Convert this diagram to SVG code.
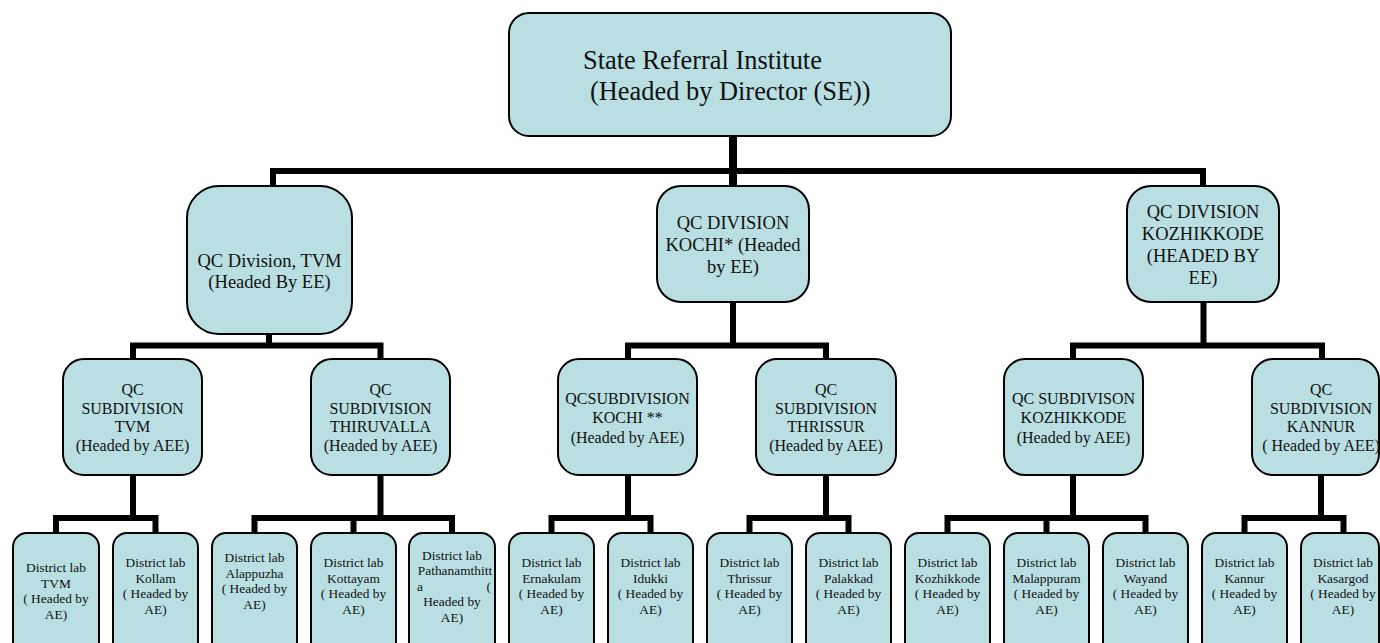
<svg xmlns="http://www.w3.org/2000/svg" width="1380" height="643" viewBox="0 0 1380 643">
<style>
.box{fill:#b9dfe2;stroke:#000;stroke-width:2}
.t{fill:#111;text-anchor:middle}
.top{font-size:26.4px;text-anchor:start}
.div{font-size:18.5px}
.sub{font-size:16px}
.lab{font-size:13.4px}
.c{fill:none;stroke:#000;stroke-width:6;stroke-linecap:butt;stroke-linejoin:miter}
</style>
<rect width="1380" height="643" fill="#fff"/>
<g id="connectors">
<path class="c" d="M733 136V187" style="stroke-width:8"/>
<path class="c" d="M273 187V171H1203V187"/>
<path class="c" d="M269 334V345.5M133 359V345.5H380.5V359"/>
<path class="c" d="M733 302V345.5M628 359V345.5H826V359"/>
<path class="c" d="M1203.5 302V345.5M1073 359V345.5H1322V359"/>
<path class="c" d="M133 475V518M56 533V518H155.5V533"/>
<path class="c" d="M380.5 475V518M254.5 533V518H452V533M353.5 518V533"/>
<path class="c" d="M628 475V518M551.5 533V518H650.5V533"/>
<path class="c" d="M826 475V518M749.5 533V518H848.5V533"/>
<path class="c" d="M1073 475V518M947.5 533V518H1145.5V533M1046.5 518V533"/>
<path class="c" d="M1321 475V518M1244.5 533V518H1343.5V533"/>
</g>
<g font-family="'Liberation Serif', 'Times New Roman', 'DejaVu Serif', serif">
<g id="n-sri">
<rect class="box" x="509" y="13" width="442" height="123" rx="20"/>
<text class="t top" x="583" y="69">State Referral Institute</text>
<text class="t top" x="590" y="100">(Headed by Director (SE))</text>
</g>
<g id="n-div-tvm">
<rect class="box" x="187" y="186" width="165" height="148" rx="32"/>
<text class="t div" x="269.5" y="267">QC Division, TVM</text>
<text class="t div" x="269.5" y="288">(Headed By EE)</text>
</g>
<g id="n-div-kochi">
<rect class="box" x="657" y="186" width="152" height="116" rx="24"/>
<text class="t div" x="733" y="229">QC DIVISION</text>
<text class="t div" x="733" y="251">KOCHI* (Headed</text>
<text class="t div" x="733" y="273">by EE)</text>
</g>
<g id="n-div-kkd">
<rect class="box" x="1127" y="186" width="152" height="116" rx="24"/>
<text class="t div" x="1203" y="218">QC DIVISION</text>
<text class="t div" x="1203" y="240">KOZHIKKODE</text>
<text class="t div" x="1203" y="262">(HEADED BY</text>
<text class="t div" x="1203" y="284">EE)</text>
</g>
<g id="n-sub-tvm">
<rect class="box" x="63" y="359" width="139" height="116" rx="21"/>
<text class="t sub" x="132.5" y="395">QC</text>
<text class="t sub" x="132.5" y="413.5">SUBDIVISION</text>
<text class="t sub" x="132.5" y="432">TVM</text>
<text class="t sub" x="132.5" y="450.5">(Headed by AEE)</text>
</g>
<g id="n-sub-thiruvalla">
<rect class="box" x="311" y="359" width="139" height="116" rx="21"/>
<text class="t sub" x="380.5" y="395">QC</text>
<text class="t sub" x="380.5" y="413.5">SUBDIVISION</text>
<text class="t sub" x="380.5" y="432">THIRUVALLA</text>
<text class="t sub" x="380.5" y="450.5">(Headed by AEE)</text>
</g>
<g id="n-sub-kochi">
<rect class="box" x="558" y="359" width="139" height="116" rx="21"/>
<text class="t sub" x="627.5" y="404">QCSUBDIVISION</text>
<text class="t sub" x="627.5" y="423">KOCHI **</text>
<text class="t sub" x="627.5" y="443">(Headed by AEE)</text>
</g>
<g id="n-sub-thrissur">
<rect class="box" x="756" y="359" width="140" height="116" rx="21"/>
<text class="t sub" x="826" y="395">QC</text>
<text class="t sub" x="826" y="413.5">SUBDIVISION</text>
<text class="t sub" x="826" y="432">THRISSUR</text>
<text class="t sub" x="826" y="450.5">(Headed by AEE)</text>
</g>
<g id="n-sub-kkd">
<rect class="box" x="1004" y="359" width="139" height="116" rx="21"/>
<text class="t sub" x="1073.5" y="404">QC SUBDIVISON</text>
<text class="t sub" x="1073.5" y="423">KOZHIKKODE</text>
<text class="t sub" x="1073.5" y="443">(Headed by AEE)</text>
</g>
<g id="n-sub-kannur">
<rect class="box" x="1252" y="359" width="127" height="116" rx="21"/>
<text class="t sub" x="1321" y="395">QC</text>
<text class="t sub" x="1321" y="413.5">SUBDIVISION</text>
<text class="t sub" x="1321" y="432">KANNUR</text>
<text class="t sub" x="1321" y="450.5">( Headed by AEE)</text>
</g>
<g id="n-lab-tvm">
<rect class="box" x="13" y="533" width="86" height="130" rx="14"/>
<text class="t lab" x="56" y="572">District lab</text>
<text class="t lab" x="56" y="587.5">TVM</text>
<text class="t lab" x="56" y="603">( Headed by</text>
<text class="t lab" x="56" y="618.5">AE)</text>
</g>
<g id="n-lab-kollam">
<rect class="box" x="113" y="533" width="85" height="130" rx="14"/>
<text class="t lab" x="155.5" y="567">District lab</text>
<text class="t lab" x="155.5" y="582.5">Kollam</text>
<text class="t lab" x="155.5" y="598">( Headed by</text>
<text class="t lab" x="155.5" y="613.5">AE)</text>
</g>
<g id="n-lab-alappuzha">
<rect class="box" x="212" y="533" width="85" height="130" rx="14"/>
<text class="t lab" x="254.5" y="562">District lab</text>
<text class="t lab" x="254.5" y="577.5">Alappuzha</text>
<text class="t lab" x="254.5" y="593">( Headed by</text>
<text class="t lab" x="254.5" y="608.5">AE)</text>
</g>
<g id="n-lab-kottayam">
<rect class="box" x="311" y="533" width="85" height="130" rx="14"/>
<text class="t lab" x="353.5" y="567">District lab</text>
<text class="t lab" x="353.5" y="582.5">Kottayam</text>
<text class="t lab" x="353.5" y="598">( Headed by</text>
<text class="t lab" x="353.5" y="613.5">AE)</text>
</g>
<g id="n-lab-pathanamthitta">
<rect class="box" x="409" y="533" width="86" height="130" rx="14"/>
<text class="t lab" x="452" y="559.5">District lab</text>
<text class="t lab" x="455" y="575">Pathanamthitt</text>
<text class="t lab" x="417" y="590.5" style="text-anchor:start">a</text>
<text class="t lab" x="491" y="590.5" style="text-anchor:end">(</text>
<text class="t lab" x="452" y="606">Headed by</text>
<text class="t lab" x="452" y="621.5">AE)</text>
</g>
<g id="n-lab-ernakulam">
<rect class="box" x="509" y="533" width="85" height="130" rx="14"/>
<text class="t lab" x="551.5" y="567">District lab</text>
<text class="t lab" x="551.5" y="582.5">Ernakulam</text>
<text class="t lab" x="551.5" y="598">( Headed by</text>
<text class="t lab" x="551.5" y="613.5">AE)</text>
</g>
<g id="n-lab-idukki">
<rect class="box" x="608" y="533" width="85" height="130" rx="14"/>
<text class="t lab" x="650.5" y="567">District lab</text>
<text class="t lab" x="650.5" y="582.5">Idukki</text>
<text class="t lab" x="650.5" y="598">( Headed by</text>
<text class="t lab" x="650.5" y="613.5">AE)</text>
</g>
<g id="n-lab-thrissur">
<rect class="box" x="707" y="533" width="85" height="130" rx="14"/>
<text class="t lab" x="749.5" y="567">District lab</text>
<text class="t lab" x="749.5" y="582.5">Thrissur</text>
<text class="t lab" x="749.5" y="598">( Headed by</text>
<text class="t lab" x="749.5" y="613.5">AE)</text>
</g>
<g id="n-lab-palakkad">
<rect class="box" x="806" y="533" width="85" height="130" rx="14"/>
<text class="t lab" x="848.5" y="567">District lab</text>
<text class="t lab" x="848.5" y="582.5">Palakkad</text>
<text class="t lab" x="848.5" y="598">( Headed by</text>
<text class="t lab" x="848.5" y="613.5">AE)</text>
</g>
<g id="n-lab-kozhikkode">
<rect class="box" x="905" y="533" width="85" height="130" rx="14"/>
<text class="t lab" x="947.5" y="567">District lab</text>
<text class="t lab" x="947.5" y="582.5">Kozhikkode</text>
<text class="t lab" x="947.5" y="598">( Headed by</text>
<text class="t lab" x="947.5" y="613.5">AE)</text>
</g>
<g id="n-lab-malappuram">
<rect class="box" x="1004" y="533" width="85" height="130" rx="14"/>
<text class="t lab" x="1046.5" y="567">District lab</text>
<text class="t lab" x="1046.5" y="582.5">Malappuram</text>
<text class="t lab" x="1046.5" y="598">( Headed by</text>
<text class="t lab" x="1046.5" y="613.5">AE)</text>
</g>
<g id="n-lab-wayand">
<rect class="box" x="1103" y="533" width="85" height="130" rx="14"/>
<text class="t lab" x="1145.5" y="567">District lab</text>
<text class="t lab" x="1145.5" y="582.5">Wayand</text>
<text class="t lab" x="1145.5" y="598">( Headed by</text>
<text class="t lab" x="1145.5" y="613.5">AE)</text>
</g>
<g id="n-lab-kannur">
<rect class="box" x="1202" y="533" width="85" height="130" rx="14"/>
<text class="t lab" x="1244.5" y="567">District lab</text>
<text class="t lab" x="1244.5" y="582.5">Kannur</text>
<text class="t lab" x="1244.5" y="598">( Headed by</text>
<text class="t lab" x="1244.5" y="613.5">AE)</text>
</g>
<g id="n-lab-kasargod">
<rect class="box" x="1301" y="533" width="78" height="130" rx="14"/>
<text class="t lab" x="1343" y="567">District lab</text>
<text class="t lab" x="1343" y="582.5">Kasargod</text>
<text class="t lab" x="1343" y="598">( Headed by</text>
<text class="t lab" x="1343" y="613.5">AE)</text>
</g>
</g>
</svg>
